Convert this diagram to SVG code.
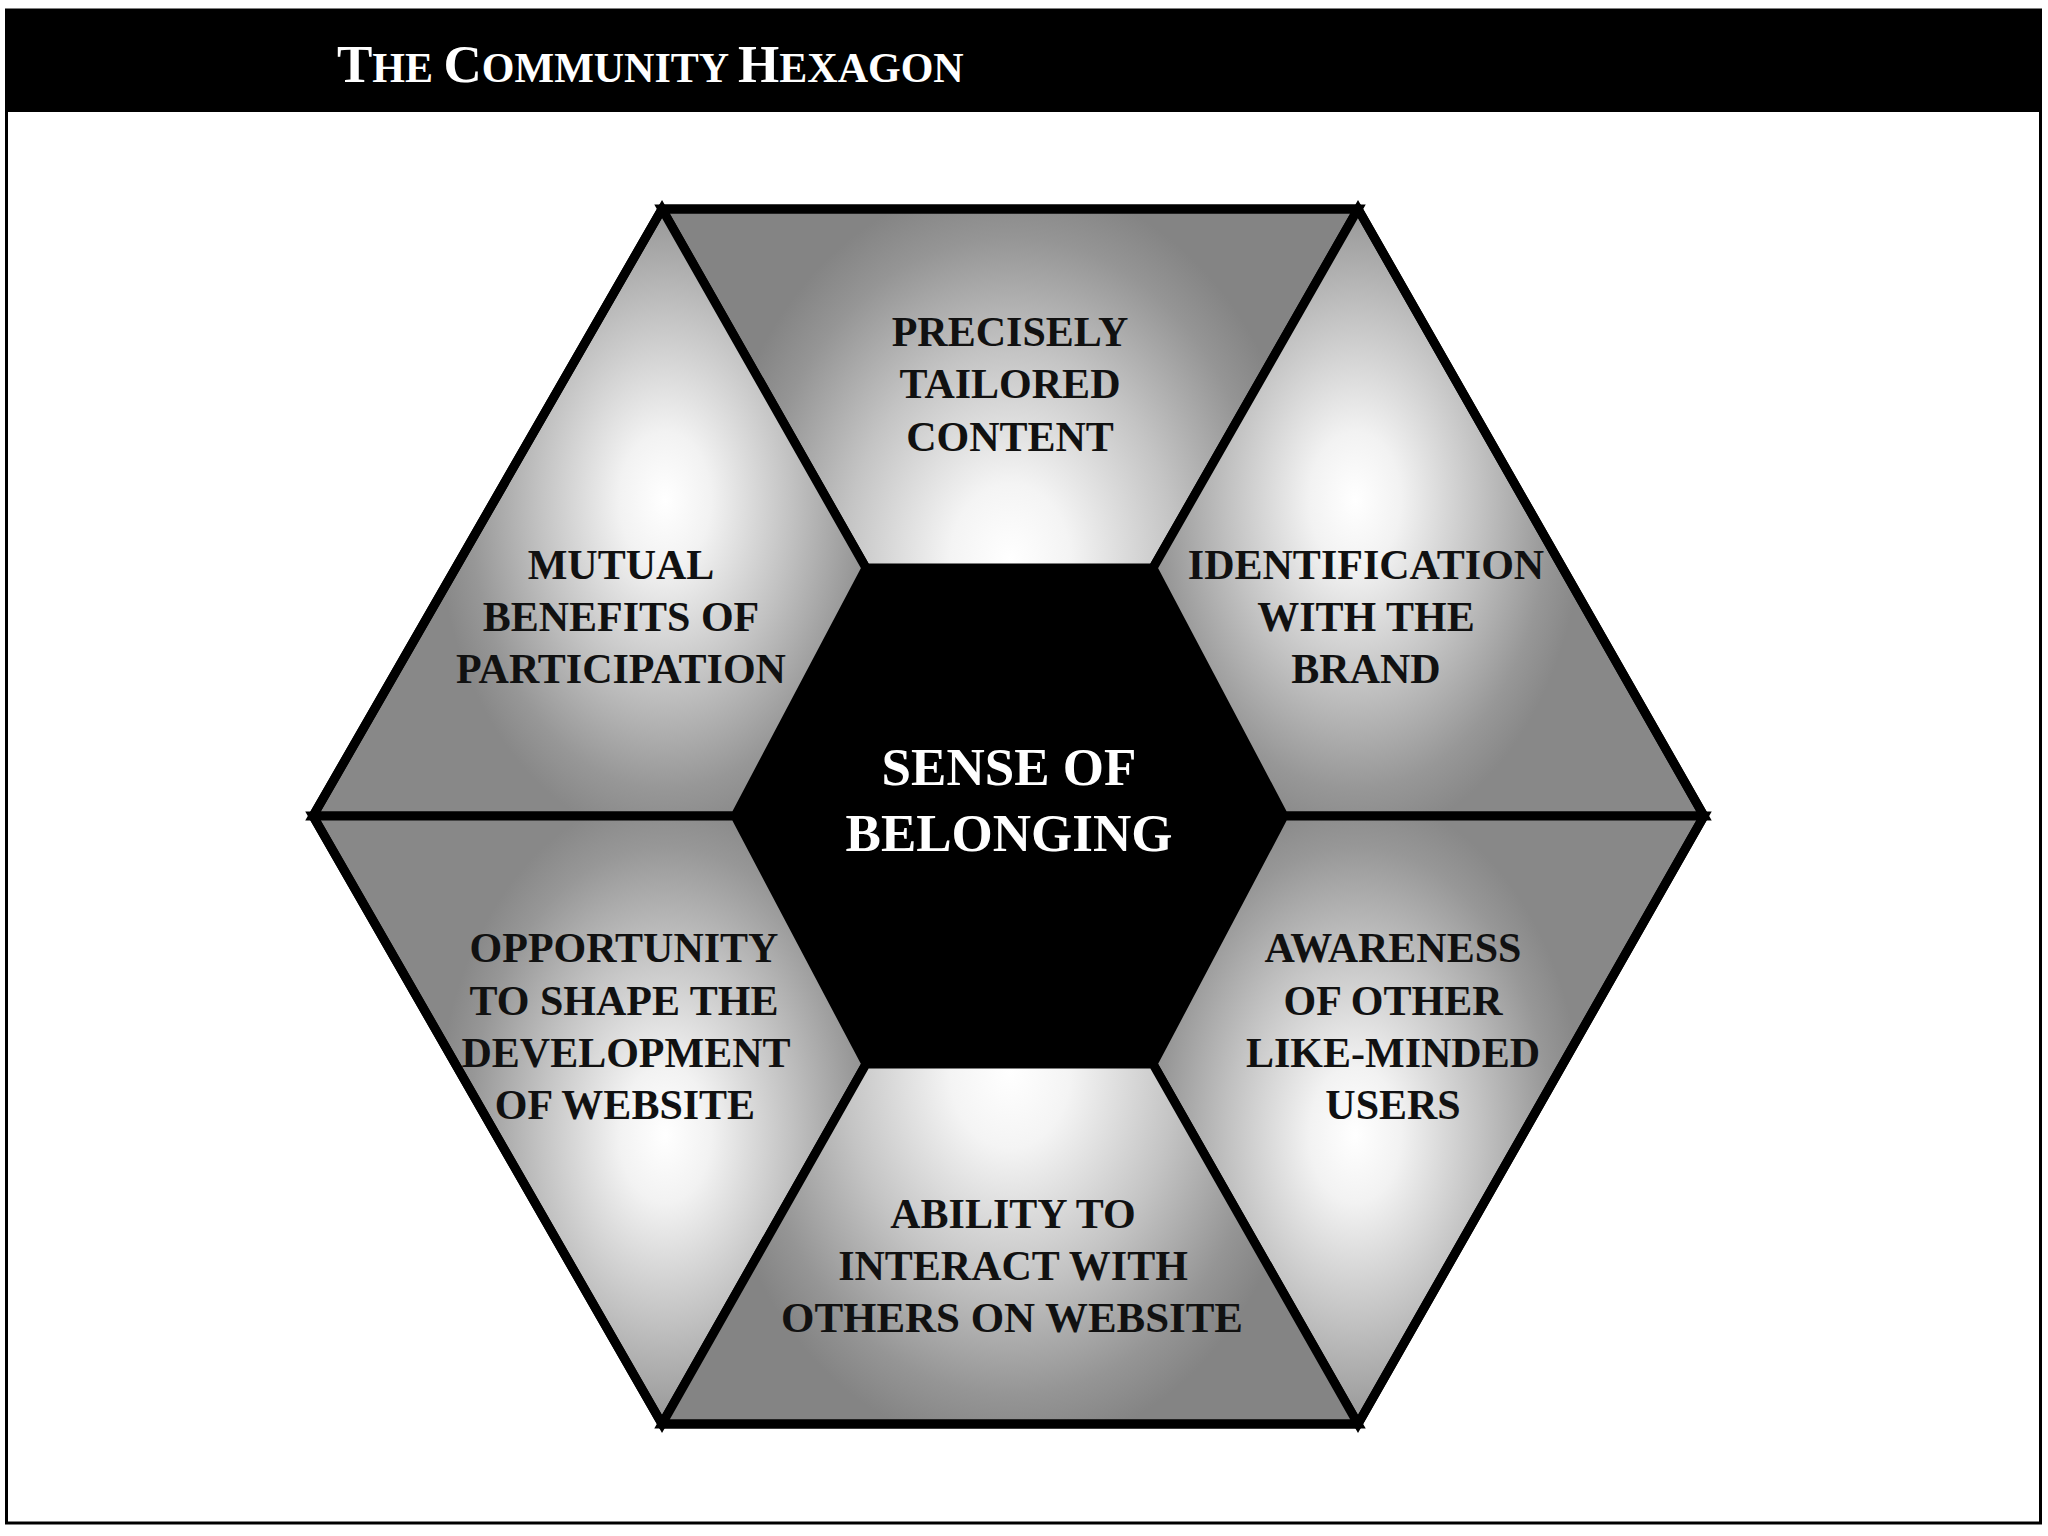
<svg xmlns="http://www.w3.org/2000/svg" width="2048" height="1536" viewBox="0 0 2048 1536">
<defs>
<style>
.seg{stroke:#000;stroke-width:9;stroke-linejoin:miter}
.lbl{font-family:"Liberation Serif","Times New Roman",serif;font-weight:bold;font-size:42px;fill:#111;text-anchor:middle}
.ctr{font-family:"Liberation Serif","Times New Roman",serif;font-weight:bold;font-size:53px;fill:#fff;text-anchor:middle}
.ttl{font-family:"Liberation Serif","Times New Roman",serif;font-weight:bold;fill:#fff}
</style>
<radialGradient id="gTop" gradientUnits="userSpaceOnUse" cx="0" cy="0" r="1" gradientTransform="translate(1010 560) scale(300 380)">
<stop offset="0" stop-color="#ffffff"/><stop offset="0.2" stop-color="#f4f4f4"/><stop offset="0.55" stop-color="#c4c4c4"/><stop offset="0.85" stop-color="#959595"/><stop offset="1" stop-color="#848484"/>
</radialGradient>
<radialGradient id="gBot" gradientUnits="userSpaceOnUse" cx="0" cy="0" r="1" gradientTransform="translate(1010 1072) scale(300 380)">
<stop offset="0" stop-color="#ffffff"/><stop offset="0.2" stop-color="#f4f4f4"/><stop offset="0.55" stop-color="#c4c4c4"/><stop offset="0.85" stop-color="#959595"/><stop offset="1" stop-color="#848484"/>
</radialGradient>
<radialGradient id="gUL" gradientUnits="userSpaceOnUse" cx="0" cy="0" r="1" gradientTransform="translate(665 500) scale(230 340)">
<stop offset="0" stop-color="#ffffff"/><stop offset="0.2" stop-color="#f2f2f2"/><stop offset="0.55" stop-color="#c2c2c2"/><stop offset="0.85" stop-color="#979797"/><stop offset="1" stop-color="#888888"/>
</radialGradient>
<radialGradient id="gUR" gradientUnits="userSpaceOnUse" cx="0" cy="0" r="1" gradientTransform="translate(1355 500) scale(230 340)">
<stop offset="0" stop-color="#ffffff"/><stop offset="0.2" stop-color="#f2f2f2"/><stop offset="0.55" stop-color="#c2c2c2"/><stop offset="0.85" stop-color="#979797"/><stop offset="1" stop-color="#888888"/>
</radialGradient>
<radialGradient id="gLL" gradientUnits="userSpaceOnUse" cx="0" cy="0" r="1" gradientTransform="translate(665 1135) scale(230 340)">
<stop offset="0" stop-color="#ffffff"/><stop offset="0.2" stop-color="#f2f2f2"/><stop offset="0.55" stop-color="#c2c2c2"/><stop offset="0.85" stop-color="#979797"/><stop offset="1" stop-color="#888888"/>
</radialGradient>
<radialGradient id="gLR" gradientUnits="userSpaceOnUse" cx="0" cy="0" r="1" gradientTransform="translate(1355 1135) scale(230 340)">
<stop offset="0" stop-color="#ffffff"/><stop offset="0.2" stop-color="#f2f2f2"/><stop offset="0.55" stop-color="#c2c2c2"/><stop offset="0.85" stop-color="#979797"/><stop offset="1" stop-color="#888888"/>
</radialGradient>
</defs>
<rect x="0" y="0" width="2048" height="1536" fill="#fff"/>
<rect x="6.5" y="10" width="2034" height="1513" fill="#fff" stroke="#000" stroke-width="3"/>
<rect x="6" y="10" width="2036" height="102" fill="#000"/>
<text class="ttl" x="337" y="82"><tspan font-size="53">T</tspan><tspan font-size="42">HE </tspan><tspan font-size="53">C</tspan><tspan font-size="42">OMMUNITY </tspan><tspan font-size="53">H</tspan><tspan font-size="42">EXAGON</tspan></text>

<g id="seg-top">
<polygon class="seg" fill="url(#gTop)" points="662,209 1358,209 1153,568 866,568"/>
<text class="lbl" x="1010" y="346">PRECISELY</text>
<text class="lbl" x="1010" y="398">TAILORED</text>
<text class="lbl" x="1010" y="451">CONTENT</text>
</g>
<g id="seg-upper-left">
<polygon class="seg" fill="url(#gUL)" points="662,209 866,568 735,816 313,816"/>
<text class="lbl" x="621" y="579">MUTUAL</text>
<text class="lbl" x="621" y="631">BENEFITS OF</text>
<text class="lbl" x="621" y="683">PARTICIPATION</text>
</g>
<g id="seg-upper-right">
<polygon class="seg" fill="url(#gUR)" points="1358,209 1704,816 1284,816 1153,568"/>
<text class="lbl" x="1366" y="579">IDENTIFICATION</text>
<text class="lbl" x="1366" y="631">WITH THE</text>
<text class="lbl" x="1366" y="683">BRAND</text>
</g>
<g id="seg-lower-left">
<polygon class="seg" fill="url(#gLL)" points="313,816 735,816 866,1064 662,1424"/>
<text class="lbl" x="624" y="962">OPPORTUNITY</text>
<text class="lbl" x="624" y="1015">TO SHAPE THE</text>
<text class="lbl" x="626" y="1067">DEVELOPMENT</text>
<text class="lbl" x="625" y="1119">OF WEBSITE</text>
</g>
<g id="seg-lower-right">
<polygon class="seg" fill="url(#gLR)" points="1704,816 1284,816 1153,1064 1358,1424"/>
<text class="lbl" x="1393" y="962">AWARENESS</text>
<text class="lbl" x="1393" y="1015">OF OTHER</text>
<text class="lbl" x="1393" y="1067">LIKE-MINDED</text>
<text class="lbl" x="1393" y="1119">USERS</text>
</g>
<g id="seg-bottom">
<polygon class="seg" fill="url(#gBot)" points="866,1064 1153,1064 1358,1424 662,1424"/>
<text class="lbl" x="1013" y="1228">ABILITY TO</text>
<text class="lbl" x="1013" y="1280">INTERACT WITH</text>
<text class="lbl" x="1012" y="1332" textLength="462" lengthAdjust="spacingAndGlyphs">OTHERS ON WEBSITE</text>
</g>
<g id="center">
<polygon fill="#000" points="866,568 1153,568 1284,816 1153,1064 866,1064 735,816"/>
<text class="ctr" x="1009" y="785">SENSE OF</text>
<text class="ctr" x="1009" y="851">BELONGING</text>
</g>
<g id="outline">
<polygon fill="none" stroke="#000" stroke-width="9" stroke-linejoin="miter" points="662,209 1358,209 1704,816 1358,1424 662,1424 313,816"/>
</g>
</svg>
